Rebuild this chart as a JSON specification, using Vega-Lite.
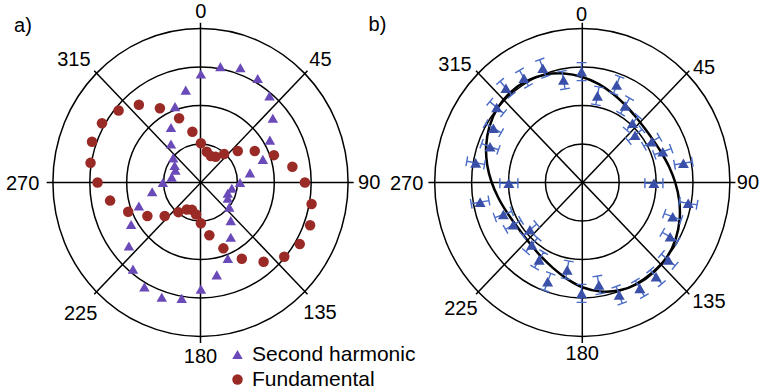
{
  "$schema": "https://vega.github.io/schema/vega-lite/v6.json",
  "background": "white",
  "padding": 0,
  "spacing": 0,
  "bounds": "flush",
  "config": {"view": {"stroke": null}, "font": "Liberation Sans", "text": {"font": "Liberation Sans"}},
  "datasets": {
    "grid": [{"r": 1}, {"r": 2}, {"r": 3}, {"r": 4}],
    "spokes": [
      {"x": 0, "y": 4.15, "x2": 0, "y2": -4.17},
      {"x": -4.17, "y": 0, "x2": 4.15, "y2": 0},
      {"x": -2.88, "y": 2.9, "x2": 2.9, "y2": -2.9},
      {"x": 2.9, "y": 2.9, "x2": -2.88, "y2": -2.9}
    ],
    "labelsA": [
      {"label": "0", "x": 0.01, "y": 4.42},
      {"label": "45", "x": 3.25, "y": 3.17},
      {"label": "90", "x": 4.57, "y": -0.02},
      {"label": "135", "x": 3.24, "y": -3.4},
      {"label": "180", "x": 0.0, "y": -4.54},
      {"label": "225", "x": -3.25, "y": -3.42},
      {"label": "270", "x": -4.82, "y": -0.05},
      {"label": "315", "x": -3.43, "y": 3.17},
      {"label": "a)", "x": -4.81, "y": 4.07}
    ],
    "labelsB": [
      {"label": "0", "x": -0.02, "y": 4.36},
      {"label": "45", "x": 3.3, "y": 2.97},
      {"label": "90", "x": 4.49, "y": -0.02},
      {"label": "135", "x": 3.43, "y": -3.1},
      {"label": "180", "x": 0.0, "y": -4.46},
      {"label": "225", "x": -3.29, "y": -3.28},
      {"label": "270", "x": -4.76, "y": -0.04},
      {"label": "315", "x": -3.45, "y": 3.06},
      {"label": "b)", "x": -5.55, "y": 4.1}
    ],
    "leftPts": [
      {"series": "Second harmonic", "x": 0.01, "y": 2.82},
      {"series": "Second harmonic", "x": 0.54, "y": 3.01},
      {"series": "Second harmonic", "x": 1.08, "y": 2.98},
      {"series": "Second harmonic", "x": 1.55, "y": 2.7},
      {"series": "Second harmonic", "x": 1.87, "y": 2.25},
      {"series": "Second harmonic", "x": 1.96, "y": 1.67},
      {"series": "Second harmonic", "x": 1.88, "y": 1.1},
      {"series": "Second harmonic", "x": 1.69, "y": 0.6},
      {"series": "Second harmonic", "x": 1.34, "y": 0.25},
      {"series": "Second harmonic", "x": 1.07, "y": 0.0},
      {"series": "Second harmonic", "x": -0.4, "y": 2.4},
      {"series": "Second harmonic", "x": -0.69, "y": 1.97},
      {"series": "Second harmonic", "x": -0.8, "y": 1.43},
      {"series": "Second harmonic", "x": -0.8, "y": 1.0},
      {"series": "Second harmonic", "x": -0.74, "y": 0.64},
      {"series": "Second harmonic", "x": -0.7, "y": 0.44},
      {"series": "Second harmonic", "x": -0.68, "y": 0.32},
      {"series": "Second harmonic", "x": -0.78, "y": 0.14},
      {"series": "Second harmonic", "x": -1.02, "y": 0.0},
      {"series": "Second harmonic", "x": 0.85, "y": -0.15},
      {"series": "Second harmonic", "x": 0.74, "y": -0.28},
      {"series": "Second harmonic", "x": 0.74, "y": -0.41},
      {"series": "Second harmonic", "x": 0.78, "y": -0.64},
      {"series": "Second harmonic", "x": 0.82, "y": -0.99},
      {"series": "Second harmonic", "x": 0.82, "y": -1.42},
      {"series": "Second harmonic", "x": 0.74, "y": -1.97},
      {"series": "Second harmonic", "x": 0.44, "y": -2.4},
      {"series": "Second harmonic", "x": 0.01, "y": -2.77},
      {"series": "Second harmonic", "x": -0.51, "y": -3.01},
      {"series": "Second harmonic", "x": -1.05, "y": -2.98},
      {"series": "Second harmonic", "x": -1.52, "y": -2.71},
      {"series": "Second harmonic", "x": -1.83, "y": -2.25},
      {"series": "Second harmonic", "x": -1.94, "y": -1.65},
      {"series": "Second harmonic", "x": -1.88, "y": -1.09},
      {"series": "Second harmonic", "x": -1.67, "y": -0.61},
      {"series": "Second harmonic", "x": -1.31, "y": -0.24},
      {"series": "Fundamental", "x": 0.01, "y": 1.02},
      {"series": "Fundamental", "x": 0.17, "y": 0.8},
      {"series": "Fundamental", "x": 0.28, "y": 0.69},
      {"series": "Fundamental", "x": 0.41, "y": 0.67},
      {"series": "Fundamental", "x": 0.64, "y": 0.74},
      {"series": "Fundamental", "x": 1.01, "y": 0.82},
      {"series": "Fundamental", "x": 1.47, "y": 0.82},
      {"series": "Fundamental", "x": 1.99, "y": 0.71},
      {"series": "Fundamental", "x": 2.49, "y": 0.41},
      {"series": "Fundamental", "x": 2.83, "y": 0.0},
      {"series": "Fundamental", "x": -0.22, "y": 1.32},
      {"series": "Fundamental", "x": -0.58, "y": 1.67},
      {"series": "Fundamental", "x": -1.1, "y": 1.93},
      {"series": "Fundamental", "x": -1.67, "y": 2.02},
      {"series": "Fundamental", "x": -2.22, "y": 1.87},
      {"series": "Fundamental", "x": -2.67, "y": 1.54},
      {"series": "Fundamental", "x": -2.94, "y": 1.06},
      {"series": "Fundamental", "x": -2.98, "y": 0.51},
      {"series": "Fundamental", "x": -2.79, "y": 0.0},
      {"series": "Fundamental", "x": -2.45, "y": -0.47},
      {"series": "Fundamental", "x": -1.96, "y": -0.76},
      {"series": "Fundamental", "x": -1.44, "y": -0.87},
      {"series": "Fundamental", "x": -0.97, "y": -0.87},
      {"series": "Fundamental", "x": -0.6, "y": -0.77},
      {"series": "Fundamental", "x": -0.37, "y": -0.7},
      {"series": "Fundamental", "x": -0.23, "y": -0.71},
      {"series": "Fundamental", "x": -0.12, "y": -0.83},
      {"series": "Fundamental", "x": 0.01, "y": -1.06},
      {"series": "Fundamental", "x": 0.24, "y": -1.37},
      {"series": "Fundamental", "x": 0.62, "y": -1.71},
      {"series": "Fundamental", "x": 1.12, "y": -1.98},
      {"series": "Fundamental", "x": 1.71, "y": -2.06},
      {"series": "Fundamental", "x": 2.27, "y": -1.93},
      {"series": "Fundamental", "x": 2.69, "y": -1.6},
      {"series": "Fundamental", "x": 2.97, "y": -1.11},
      {"series": "Fundamental", "x": 3.01, "y": -0.56}
    ],
    "rightPts": [
      {"angle": 0, "x": -0.02, "y": 2.88},
      {"angle": 10, "x": 0.41, "y": 2.25},
      {"angle": 20, "x": 0.93, "y": 2.53},
      {"angle": 30, "x": 1.16, "y": 1.99},
      {"angle": 40, "x": 1.36, "y": 1.54},
      {"angle": 50, "x": 1.43, "y": 1.23},
      {"angle": 60, "x": 1.88, "y": 1.06},
      {"angle": 70, "x": 2.18, "y": 0.8},
      {"angle": 80, "x": 2.74, "y": 0.5},
      {"angle": 90, "x": 1.94, "y": -0.02},
      {"angle": 100, "x": 2.87, "y": -0.54},
      {"angle": 110, "x": 2.45, "y": -0.89},
      {"angle": 120, "x": 2.38, "y": -1.41},
      {"angle": 130, "x": 2.33, "y": -2.01},
      {"angle": 140, "x": 2.0, "y": -2.45},
      {"angle": 150, "x": 1.56, "y": -2.75},
      {"angle": 160, "x": 1.0, "y": -2.92},
      {"angle": 170, "x": 0.45, "y": -2.66},
      {"angle": 180, "x": -0.02, "y": -2.88},
      {"angle": 190, "x": -0.41, "y": -2.27},
      {"angle": 200, "x": -0.94, "y": -2.58},
      {"angle": 210, "x": -1.17, "y": -2.01},
      {"angle": 220, "x": -1.37, "y": -1.62},
      {"angle": 230, "x": -1.42, "y": -1.23},
      {"angle": 240, "x": -1.87, "y": -1.1},
      {"angle": 250, "x": -2.14, "y": -0.83},
      {"angle": 260, "x": -2.77, "y": -0.51},
      {"angle": 270, "x": -1.99, "y": -0.02},
      {"angle": 280, "x": -2.89, "y": 0.51},
      {"angle": 290, "x": -2.5, "y": 0.93},
      {"angle": 300, "x": -2.41, "y": 1.41},
      {"angle": 310, "x": -2.32, "y": 1.95},
      {"angle": 320, "x": -2.07, "y": 2.45},
      {"angle": 330, "x": -1.58, "y": 2.71},
      {"angle": 340, "x": -1.07, "y": 2.97},
      {"angle": 350, "x": -0.51, "y": 2.66}
    ],
    "ellipse": [
      {"i": 0, "x": 0.0, "y": 2.741},
      {"i": 1, "x": 0.45, "y": 2.553},
      {"i": 2, "x": 0.837, "y": 2.299},
      {"i": 3, "x": 1.162, "y": 2.013},
      {"i": 4, "x": 1.439, "y": 1.715},
      {"i": 5, "x": 1.685, "y": 1.414},
      {"i": 6, "x": 1.917, "y": 1.107},
      {"i": 7, "x": 2.141, "y": 0.779},
      {"i": 8, "x": 2.349, "y": 0.414},
      {"i": 9, "x": 2.519, "y": 0.0},
      {"i": 10, "x": 2.626, "y": -0.463},
      {"i": 11, "x": 2.638, "y": -0.96},
      {"i": 12, "x": 2.532, "y": -1.462},
      {"i": 13, "x": 2.3, "y": -1.93},
      {"i": 14, "x": 1.948, "y": -2.321},
      {"i": 15, "x": 1.503, "y": -2.63},
      {"i": 16, "x": 1.012, "y": -2.8},
      {"i": 17, "x": 0.5, "y": -2.83},
      {"i": 18, "x": 0.0, "y": -2.72},
      {"i": 19, "x": -0.435, "y": -2.49},
      {"i": 20, "x": -0.805, "y": -2.211},
      {"i": 21, "x": -1.113, "y": -1.928},
      {"i": 22, "x": -1.375, "y": -1.638},
      {"i": 23, "x": -1.61, "y": -1.351},
      {"i": 24, "x": -1.836, "y": -1.06},
      {"i": 25, "x": -2.06, "y": -0.75},
      {"i": 26, "x": -2.273, "y": -0.401},
      {"i": 27, "x": -2.455, "y": 0.0},
      {"i": 28, "x": -2.577, "y": 0.454},
      {"i": 29, "x": -2.606, "y": 0.948},
      {"i": 30, "x": -2.517, "y": 1.453},
      {"i": 31, "x": -2.3, "y": 1.93},
      {"i": 32, "x": -1.959, "y": 2.335},
      {"i": 33, "x": -1.52, "y": 2.633},
      {"i": 34, "x": -1.019, "y": 2.8},
      {"i": 35, "x": -0.499, "y": 2.832}
    ]
  },
  "hconcat": [
    {
      "width": 385,
      "height": 391,
      "layer": [
        {
          "data": {"name": "grid"},
          "mark": {"type": "point", "filled": false, "stroke": "black", "strokeWidth": 1.5, "opacity": 1,
                   "shape": "M 0 -1 C 0.52933 -1 0.95844 -0.55228 0.95844 0 C 0.95844 0.55228 0.52933 1 0 1 C -0.52933 1 -0.95844 0.55228 -0.95844 0 C -0.95844 -0.55228 -0.52933 -1 0 -1 Z"},
          "encoding": {
            "x": {"datum": 0, "type": "quantitative", "scale": {"domain": [-5.4336, 5.0], "nice": false, "zero": false}, "axis": null},
            "y": {"datum": 0, "type": "quantitative", "scale": {"domain": [-5.4156, 4.7403], "nice": false, "zero": false}, "axis": null},
            "size": {"field": "r", "type": "quantitative", "scale": {"type": "pow", "exponent": 2, "domain": [0, 4], "range": [0, 94864]}, "legend": null}
          }
        },
        {
          "data": {"name": "spokes"},
          "mark": {"type": "rule", "color": "black", "strokeWidth": 1.5},
          "encoding": {
            "x": {"field": "x", "type": "quantitative", "scale": {"domain": [-5.4336, 5.0], "nice": false, "zero": false}, "axis": null},
            "y": {"field": "y", "type": "quantitative", "scale": {"domain": [-5.4156, 4.7403], "nice": false, "zero": false}, "axis": null},
            "x2": {"field": "x2"},
            "y2": {"field": "y2"}
          }
        },
        {
          "data": {"name": "labelsA"},
          "mark": {"type": "text", "fontSize": 20, "align": "center", "baseline": "middle", "color": "black", "font": "Liberation Sans"},
          "encoding": {
            "x": {"field": "x", "type": "quantitative", "scale": {"domain": [-5.4336, 5.0], "nice": false, "zero": false}, "axis": null},
            "y": {"field": "y", "type": "quantitative", "scale": {"domain": [-5.4156, 4.7403], "nice": false, "zero": false}, "axis": null},
            "text": {"field": "label"}
          }
        },
        {
          "data": {"name": "leftPts"},
          "mark": {"type": "point", "filled": true, "size": 110, "opacity": 1},
          "encoding": {
            "x": {"field": "x", "type": "quantitative", "scale": {"domain": [-5.4336, 5.0], "nice": false, "zero": false}, "axis": null},
            "y": {"field": "y", "type": "quantitative", "scale": {"domain": [-5.4156, 4.7403], "nice": false, "zero": false}, "axis": null},
            "color": {"field": "series", "type": "nominal",
                      "scale": {"domain": ["Second harmonic", "Fundamental"], "range": ["#6a49b8", "#9a2a26"]},
                      "legend": {"title": null, "orient": "none", "legendX": 227, "legendY": 344, "labelFontSize": 21, "labelFont": "Liberation Sans", "labelColor": "black", "labelLimit": 400, "symbolSize": 110, "rowPadding": 3, "labelOffset": 4, "symbolOpacity": 1}},
            "shape": {"field": "series", "type": "nominal",
                      "scale": {"domain": ["Second harmonic", "Fundamental"], "range": ["triangle-up", "circle"]},
                      "legend": {"title": null, "orient": "none", "legendX": 227, "legendY": 344, "labelFontSize": 21, "labelFont": "Liberation Sans", "labelColor": "black", "labelLimit": 400, "symbolSize": 110, "rowPadding": 3, "labelOffset": 4, "symbolOpacity": 1}}
          }
        }
      ]
    },
    {
      "width": 377,
      "height": 391,
      "layer": [
        {
          "data": {"name": "grid"},
          "mark": {"type": "point", "filled": false, "stroke": "black", "strokeWidth": 1.5, "opacity": 1,
                   "shape": "M 0 -1 C 0.52933 -1 0.95844 -0.55228 0.95844 0 C 0.95844 0.55228 0.52933 1 0 1 C -0.52933 1 -0.95844 0.55228 -0.95844 0 C -0.95844 -0.55228 -0.52933 -1 0 -1 Z"},
          "encoding": {
            "x": {"datum": 0, "type": "quantitative", "scale": {"domain": [-5.3469, 4.8699], "nice": false, "zero": false}, "axis": null},
            "y": {"datum": 0, "type": "quantitative", "scale": {"domain": [-5.4156, 4.7403], "nice": false, "zero": false}, "axis": null},
            "size": {"field": "r", "type": "quantitative", "scale": {"type": "pow", "exponent": 2, "domain": [0, 4], "range": [0, 94864]}, "legend": null}
          }
        },
        {
          "data": {"name": "spokes"},
          "mark": {"type": "rule", "color": "black", "strokeWidth": 1.5},
          "encoding": {
            "x": {"field": "x", "type": "quantitative", "scale": {"domain": [-5.3469, 4.8699], "nice": false, "zero": false}, "axis": null},
            "y": {"field": "y", "type": "quantitative", "scale": {"domain": [-5.4156, 4.7403], "nice": false, "zero": false}, "axis": null},
            "x2": {"field": "x2"},
            "y2": {"field": "y2"}
          }
        },
        {
          "data": {"name": "labelsB"},
          "mark": {"type": "text", "fontSize": 20, "align": "center", "baseline": "middle", "color": "black", "font": "Liberation Sans"},
          "encoding": {
            "x": {"field": "x", "type": "quantitative", "scale": {"domain": [-5.3469, 4.8699], "nice": false, "zero": false}, "axis": null},
            "y": {"field": "y", "type": "quantitative", "scale": {"domain": [-5.4156, 4.7403], "nice": false, "zero": false}, "axis": null},
            "text": {"field": "label"}
          }
        },
        {
          "data": {"name": "ellipse"},
          "mark": {"type": "line", "color": "black", "strokeWidth": 2.5, "interpolate": "cardinal-closed"},
          "encoding": {
            "x": {"field": "x", "type": "quantitative", "scale": {"domain": [-5.3469, 4.8699], "nice": false, "zero": false}, "axis": null},
            "y": {"field": "y", "type": "quantitative", "scale": {"domain": [-5.4156, 4.7403], "nice": false, "zero": false}, "axis": null},
            "order": {"field": "i", "type": "quantitative"}
          }
        },
        {
          "data": {"name": "rightPts"},
          "mark": {"type": "point", "filled": false, "stroke": "#4a6cc6", "strokeWidth": 1.4, "opacity": 1, "size": 324,
                   "shape": "M -0.55 -1 L 0.55 -1 M 0 -1 L 0 1 M -0.55 1 L 0.55 1"},
          "encoding": {
            "x": {"field": "x", "type": "quantitative", "scale": {"domain": [-5.3469, 4.8699], "nice": false, "zero": false}, "axis": null},
            "y": {"field": "y", "type": "quantitative", "scale": {"domain": [-5.4156, 4.7403], "nice": false, "zero": false}, "axis": null},
            "angle": {"field": "angle", "type": "quantitative", "scale": null}
          }
        },
        {
          "data": {"name": "rightPts"},
          "mark": {"type": "point", "filled": true, "shape": "triangle-up", "color": "#3a50a8", "size": 121, "opacity": 1},
          "encoding": {
            "x": {"field": "x", "type": "quantitative", "scale": {"domain": [-5.3469, 4.8699], "nice": false, "zero": false}, "axis": null},
            "y": {"field": "y", "type": "quantitative", "scale": {"domain": [-5.4156, 4.7403], "nice": false, "zero": false}, "axis": null}
          }
        }
      ]
    }
  ]
}
